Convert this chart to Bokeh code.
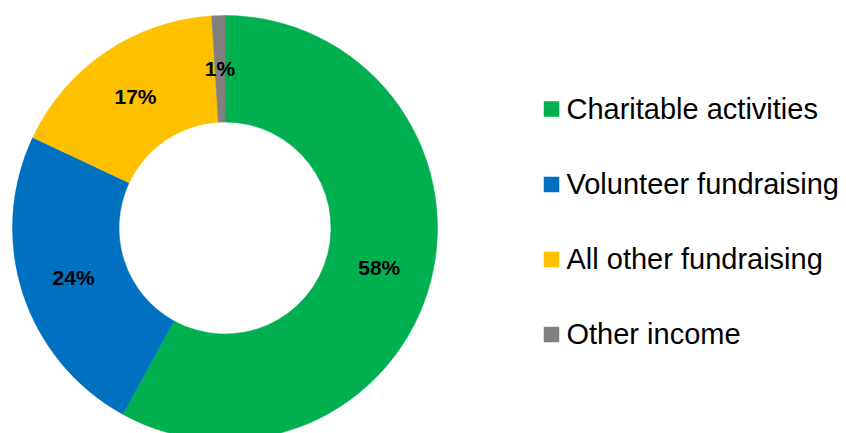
import math
from bokeh.plotting import figure
from bokeh.models import Range1d, ColumnDataSource
from bokeh.core.properties import value
from bokeh.embed import file_html
from bokeh.resources import INLINE

categories = ["Charitable activities", "Volunteer fundraising", "All other fundraising", "Other income"]
shares = [58, 24, 17, 1]
pct_labels = ["58%", "24%", "17%", "1%"]
colors = ["#00B050", "#0070C0", "#FFC000", "#808080"]

W, H = 846, 433
PAGE_H = 433

def dy(page_y):
    return PAGE_H - page_y

p = figure(width=W, height=H, output_backend="svg", toolbar_location=None,
           x_range=Range1d(0, W), y_range=Range1d(dy(H), dy(0)),
           min_border=0)
p.axis.visible = False
p.grid.visible = False
p.outline_line_color = None
p.background_fill_color = "white"
p.border_fill_color = "white"

cx, cy = 224.5, dy(227.5)
r_out, r_in = 212.5, 106.0

total = float(sum(shares))
starts, ends, lx, ly = [], [], [], []
cum = 0.0
for s in shares:
    f0 = cum / total
    f1 = (cum + s) / total
    starts.append(math.pi / 2 - 2 * math.pi * f0)
    ends.append(math.pi / 2 - 2 * math.pi * f1)
    fm = (f0 + f1) / 2
    rm = (r_out + r_in) / 2
    lx.append(cx + rm * math.sin(2 * math.pi * fm))
    ly.append(cy + rm * math.cos(2 * math.pi * fm))
    cum += s

src = ColumnDataSource(dict(start=starts, end=ends, color=colors, lx=lx, ly=ly, lab=pct_labels))
p.annular_wedge(x=cx, y=cy, inner_radius=r_in, outer_radius=r_out,
                start_angle="start", end_angle="end", direction="clock",
                fill_color="color", line_color="color", line_width=0.5, source=src)

p.text(x="lx", y="ly", text="lab", source=src, text_align="center", text_baseline="middle",
       text_font=value("Liberation Sans"), text_font_style="bold", text_font_size="21px",
       text_color="black")

# legend
row_y = [108.5, 184, 259, 334]
leg = ColumnDataSource(dict(
    sx=[551] * 4, sy=[dy(v) for v in row_y],
    tx=[566] * 4, ty=[dy(v - 0.5) for v in row_y],
    name=categories, color=colors))
p.scatter(x="sx", y="sy", marker="square", size=15.5, fill_color="color", line_color=None, source=leg)
p.text(x="tx", y="ty", text="name", source=leg, text_align="left", text_baseline="alphabetic",
       text_font=value("Liberation Sans"), text_font_size="29px", text_color="black")

open("out.html", "w").write(file_html(p, INLINE))
